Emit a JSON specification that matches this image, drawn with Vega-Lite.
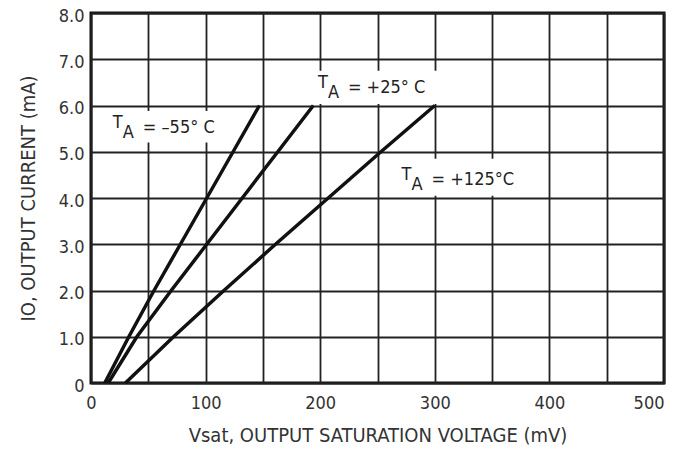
{
  "$schema": "https://vega.github.io/schema/vega-lite/v6.json",
  "width": 573,
  "height": 370,
  "autosize": "none",
  "padding": {"left": 91, "top": 13, "right": 11, "bottom": 77},
  "background": "white",
  "datasets": {
    "curves": [
      {"series": "-55", "v": 12, "i": 0},
      {"series": "-55", "v": 33, "i": 1},
      {"series": "-55", "v": 55, "i": 2},
      {"series": "-55", "v": 78, "i": 3},
      {"series": "-55", "v": 101, "i": 4},
      {"series": "-55", "v": 124, "i": 5},
      {"series": "-55", "v": 147, "i": 6},
      {"series": "+25", "v": 15, "i": 0},
      {"series": "+25", "v": 40, "i": 1},
      {"series": "+25", "v": 70, "i": 2},
      {"series": "+25", "v": 101, "i": 3},
      {"series": "+25", "v": 132, "i": 4},
      {"series": "+25", "v": 163, "i": 5},
      {"series": "+25", "v": 194, "i": 6},
      {"series": "+125", "v": 30, "i": 0},
      {"series": "+125", "v": 72, "i": 1},
      {"series": "+125", "v": 116, "i": 2},
      {"series": "+125", "v": 161, "i": 3},
      {"series": "+125", "v": 207, "i": 4},
      {"series": "+125", "v": 253, "i": 5},
      {"series": "+125", "v": 300, "i": 6}
    ],
    "labels": [
      {"x": 19, "y": 5.51, "rest": "=  –55° C", "x1": 16.5, "x2": 119.5, "y1": 5.2, "y2": 5.88},
      {"x": 198, "y": 6.38, "rest": "=  +25° C", "x1": 196.5, "x2": 303, "y1": 6.03, "y2": 6.75},
      {"x": 271, "y": 4.39, "rest": "=  +125°C", "x1": 268, "x2": 378, "y1": 4.05, "y2": 4.85}
    ]
  },
  "layer": [
    {
      "data": {"name": "labels"},
      "mark": {"type": "rect", "fill": "white", "stroke": null},
      "encoding": {
        "x": {"field": "x1", "type": "quantitative", "scale": {"domain": [0, 500], "nice": false}},
        "x2": {"field": "x2"},
        "y": {"field": "y1", "type": "quantitative", "scale": {"domain": [0, 8], "nice": false}},
        "y2": {"field": "y2"}
      }
    },
    {
      "data": {"name": "curves"},
      "mark": {"type": "line", "color": "#111", "strokeWidth": 3.5, "strokeCap": "butt"},
      "encoding": {
        "x": {
          "field": "v", "type": "quantitative",
          "scale": {"domain": [0, 500], "nice": false},
          "axis": {
            "values": [0, 50, 100, 150, 200, 250, 300, 350, 400, 450, 500],
            "labelExpr": "datum.value % 100 === 0 ? datum.label : ''",
            "labelAlign": {"condition": {"test": "datum.value === 500", "value": "right"}, "value": "center"},
            "labelPadding": 11,
            "title": "Vsat, OUTPUT SATURATION VOLTAGE (mV)",
            "titlePadding": 13
          }
        },
        "y": {
          "field": "i", "type": "quantitative",
          "scale": {"domain": [0, 8], "nice": false},
          "axis": {
            "values": [0, 1, 2, 3, 4, 5, 6, 7, 8],
            "labelExpr": "datum.value === 0 ? '0' : format(datum.value, '.1f')",
            "labelPadding": 7,
            "labelOffset": 3,
            "title": "IO, OUTPUT CURRENT (mA)",
            "titlePadding": 20
          }
        },
        "detail": {"field": "series", "type": "nominal"}
      }
    },
    {
      "data": {"name": "labels"},
      "mark": {"type": "text", "align": "left", "baseline": "alphabetic", "fontSize": 18, "color": "#222", "text": "T"},
      "encoding": {
        "x": {"field": "x", "type": "quantitative"},
        "y": {"field": "y", "type": "quantitative"}
      }
    },
    {
      "data": {"name": "labels"},
      "mark": {"type": "text", "align": "left", "baseline": "alphabetic", "fontSize": 18, "color": "#222", "text": "A", "dx": 10, "dy": 10},
      "encoding": {
        "x": {"field": "x", "type": "quantitative"},
        "y": {"field": "y", "type": "quantitative"}
      }
    },
    {
      "data": {"name": "labels"},
      "mark": {"type": "text", "align": "left", "baseline": "alphabetic", "fontSize": 18, "color": "#222", "dx": 30, "dy": 5},
      "encoding": {
        "x": {"field": "x", "type": "quantitative"},
        "y": {"field": "y", "type": "quantitative"},
        "text": {"field": "rest"}
      }
    }
  ],
  "config": {
    "font": "DejaVu Sans Condensed, Roboto, sans-serif",
    "view": {"stroke": "#111", "strokeWidth": 3},
    "text": {"font": "DejaVu Sans Condensed, Roboto, sans-serif"},
    "axis": {
      "grid": true,
      "gridColor": "#222",
      "gridWidth": 1.8,
      "gridOpacity": 1,
      "domain": false,
      "ticks": false,
      "labelFont": "DejaVu Sans Condensed, Roboto, sans-serif",
      "labelFontSize": 18,
      "labelColor": "#333",
      "titleFont": "DejaVu Sans Condensed, Roboto, sans-serif",
      "titleFontSize": 20,
      "titleFontWeight": "normal",
      "titleColor": "#333"
    }
  }
}
